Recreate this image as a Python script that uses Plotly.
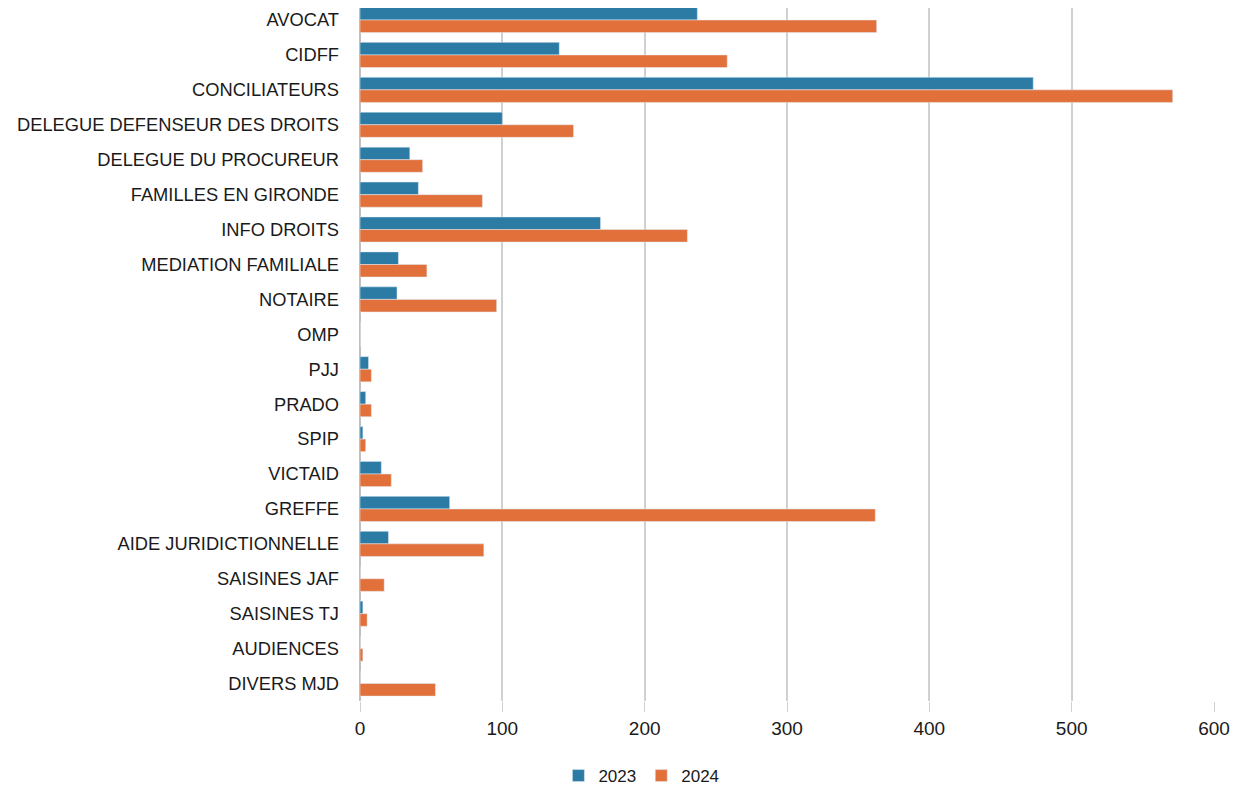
import plotly.graph_objects as go

categories = ["AVOCAT", "CIDFF", "CONCILIATEURS", "DELEGUE DEFENSEUR DES DROITS",
              "DELEGUE DU PROCUREUR", "FAMILLES EN GIRONDE", "INFO DROITS",
              "MEDIATION FAMILIALE", "NOTAIRE", "OMP", "PJJ", "PRADO", "SPIP",
              "VICTAID", "GREFFE", "AIDE JURIDICTIONNELLE", "SAISINES JAF",
              "SAISINES TJ", "AUDIENCES", "DIVERS MJD"]
values_2023 = [237, 140, 473, 100, 35, 41, 169, 27, 26, 0, 6, 4, 2, 15, 63, 20, 0, 2, 0, 0]
values_2024 = [363, 258, 571, 150, 44, 86, 230, 47, 96, 0, 8, 8, 4, 22, 362, 87, 17, 5, 2, 53]
x_ticks = [0, 100, 200, 300, 400, 500, 600]

fig = go.Figure()
fig.add_trace(go.Bar(y=categories, x=values_2023, name="2023", orientation="h",
                     marker=dict(color="#2B7BA5")))
fig.add_trace(go.Bar(y=categories, x=values_2024, name="2024", orientation="h",
                     marker=dict(color="#E2703A")))

fnt = "Liberation Sans, Arial, sans-serif"
fig.update_layout(
    width=1242, height=794,
    margin=dict(l=352, r=36, t=0, b=101),
    paper_bgcolor="white", plot_bgcolor="white",
    barmode="group", bargap=0.28, bargroupgap=0.0,
    font=dict(family=fnt, size=17, color="#1a1a1a"),
    showlegend=True,
    legend=dict(orientation="h", xref="container", x=0.51, xanchor="center",
                yref="container", y=0.01, yanchor="bottom",
                font=dict(size=17), traceorder="normal"),
)
fig.update_xaxes(range=[0, 600], tickvals=x_ticks, showgrid=True, gridcolor="#D0D0D0",
                 gridwidth=1.5, zeroline=True, zerolinecolor="#C0C0C0",
                 ticks="outside", ticklen=10, tickcolor="#D0D0D0",
                 tickfont=dict(size=19), showline=False, automargin=False)
fig.update_yaxes(range=[19.5, -0.344], showgrid=False, ticks="", ticklabelstandoff=20,
                 tickfont=dict(size=18.3), automargin=False)

fig.write_html("out.html")
